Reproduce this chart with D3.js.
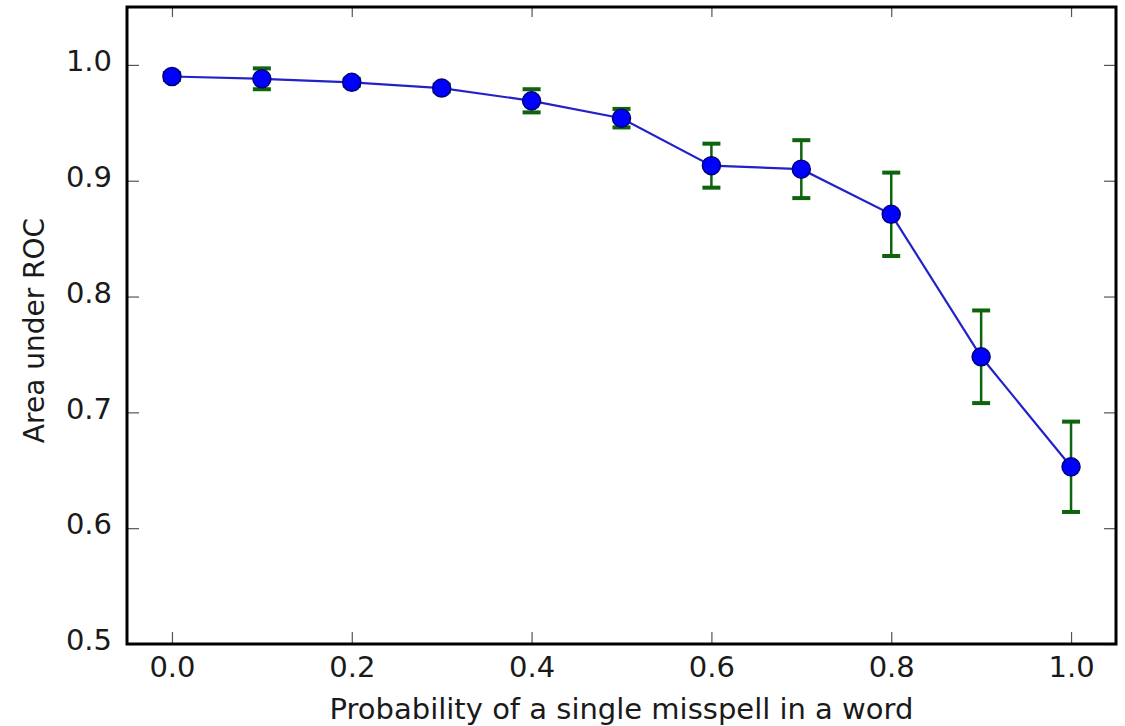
<!DOCTYPE html>
<html>
<head>
<meta charset="utf-8">
<script src="https://cdn.jsdelivr.net/npm/d3@7"></script>
<style>
  body { margin: 0; background: #fff; }
  text { font-family: "DejaVu Sans", sans-serif; fill: #1a1a1a; }
</style>
</head>
<body>
<div id="chart"></div>
<script>
// data
var probs = [0.0, 0.1, 0.2, 0.3, 0.4, 0.5, 0.6, 0.7, 0.8, 0.9, 1.0];
var auc = [0.990, 0.988, 0.985, 0.980, 0.969, 0.954, 0.913, 0.910, 0.871, 0.748, 0.653];
var aucErr = [0.003, 0.009, 0.003, 0.003, 0.010, 0.008, 0.019, 0.025, 0.036, 0.040, 0.039];
var xTicks = [0.0, 0.2, 0.4, 0.6, 0.8, 1.0];
var yTicks = [0.5, 0.6, 0.7, 0.8, 0.9, 1.0];

var W = 1125, H = 726;
var margin = {top: 7, right: 9, bottom: 82, left: 127};
var width = W - margin.left - margin.right;
var height = H - margin.top - margin.bottom;

var svg = d3.select("#chart").append("svg")
  .attr("width", W)
  .attr("height", H);

var g = svg.append("g")
  .attr("transform", "translate(" + margin.left + "," + margin.top + ")");

var x = d3.scaleLinear().domain([-0.05, 1.05]).range([0, width]);
var y = d3.scaleLinear().domain([0.5, 1.05]).range([height, 0]);

var fmt = d3.format(".1f");

// axes, ticks pointing inward like matplotlib classic
var xAxis = d3.axisBottom(x).tickValues(xTicks).tickFormat(fmt).tickSizeInner(-12).tickPadding(12);
var yAxis = d3.axisLeft(y).tickValues(yTicks).tickFormat(fmt).tickSizeInner(-12).tickPadding(15);
var xTop = d3.axisTop(x).tickValues(xTicks).tickFormat("").tickSizeInner(-10);
var yRight = d3.axisRight(y).tickValues(yTicks).tickFormat("").tickSizeInner(-12);

function styleAxis(sel) {
  sel.select(".domain").remove();
  sel.selectAll(".tick line").attr("stroke", "#555").attr("stroke-width", 1.2);
  sel.selectAll(".tick text").style("font-size", "29px").attr("fill", "#1a1a1a");
}

g.append("g").attr("transform", "translate(0," + height + ")").call(xAxis).call(styleAxis);
g.append("g").call(yAxis).call(styleAxis)
  .selectAll(".tick text").attr("dy", "0.2em");
g.append("g").call(xTop).call(styleAxis);
g.append("g").attr("transform", "translate(" + width + ",0)").call(yRight).call(styleAxis);

// error bars
var bars = g.append("g").selectAll("g")
  .data(probs)
  .enter().append("g");

bars.append("line")
  .attr("x1", function(d) { return x(d); })
  .attr("x2", function(d) { return x(d); })
  .attr("y1", function(d, i) { return y(auc[i] + aucErr[i]); })
  .attr("y2", function(d, i) { return y(auc[i] - aucErr[i]); })
  .attr("stroke", "#0d640d")
  .attr("stroke-width", 2.5);

[1, -1].forEach(function(s) {
  bars.append("line")
    .attr("x1", function(d) { return x(d) - 9; })
    .attr("x2", function(d) { return x(d) + 9; })
    .attr("y1", function(d, i) { return y(auc[i] + s * aucErr[i]); })
    .attr("y2", function(d, i) { return y(auc[i] + s * aucErr[i]); })
    .attr("stroke", "#0d640d")
    .attr("stroke-width", 4);
});

// line
var line = d3.line()
  .x(function(d) { return x(d); })
  .y(function(d, i) { return y(auc[i]); });

g.append("path")
  .datum(probs)
  .attr("d", line)
  .attr("fill", "none")
  .attr("stroke", "#2222c8")
  .attr("stroke-width", 2.2);

// markers
g.append("g").selectAll("circle")
  .data(probs)
  .enter().append("circle")
  .attr("cx", function(d) { return x(d); })
  .attr("cy", function(d, i) { return y(auc[i]); })
  .attr("r", 9)
  .attr("fill", "#0000ff")
  .attr("stroke", "#00007a")
  .attr("stroke-width", 1.5);

// frame
g.append("rect")
  .attr("width", width)
  .attr("height", height)
  .attr("fill", "none")
  .attr("stroke", "#000")
  .attr("stroke-width", 3);

// axis labels
svg.append("text")
  .attr("x", margin.left + width / 2)
  .attr("y", 719)
  .attr("text-anchor", "middle")
  .style("font-size", "29px")
  .text("Probability of a single misspell in a word");

svg.append("text")
  .attr("transform", "translate(44," + (margin.top + height / 2 + 5) + ") rotate(-90)")
  .attr("text-anchor", "middle")
  .style("font-size", "28px")
  .text("Area under ROC");
</script>
</body>
</html>
